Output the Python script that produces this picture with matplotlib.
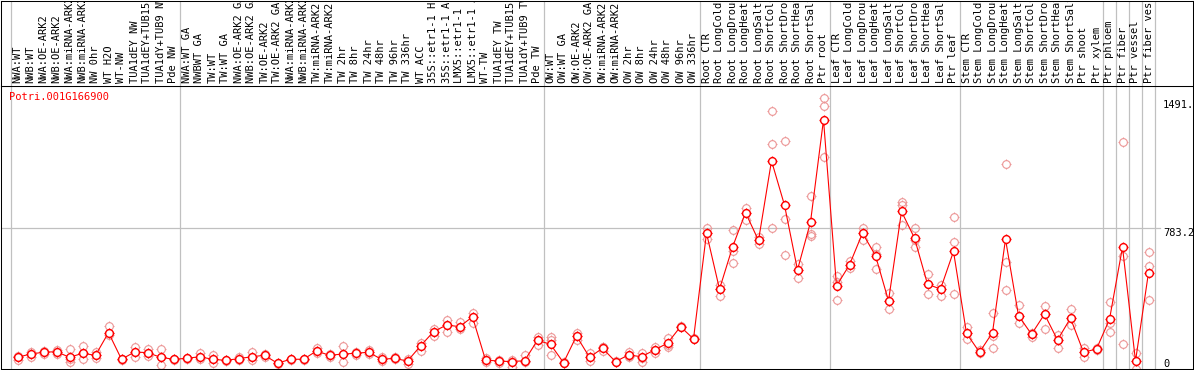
import numpy as np
import matplotlib
matplotlib.use('Agg')
import matplotlib.pyplot as plt
from matplotlib.path import Path

gene = 'Potri.001G166900'

labels = [
    'NWA:WT', 'NWB:WT', 'NWA:OE-ARK2', 'NWB:OE-ARK2', 'NWA:miRNA-ARK2', 'NWB:miRNA-ARK2',
    'NW 0hr', 'WT H2O', 'WT-NW', 'TUA1dEY NW', 'TUA1dEY+TUB15 NW', 'TUA1dY+TUB9 NW', 'Pde NW',
    'NWA:WT GA', 'NWBWT GA', 'TW:WT', 'TW:WT GA', 'NWA:OE-ARK2 GA', 'NWB:OE-ARK2 GA',
    'TW:OE-ARK2', 'TW:OE-ARK2 GA', 'NWA:miRNA-ARK2', 'NWB:miRNA-ARK2', 'TW:miRNA-ARK2',
    'TW:miRNA-ARK2', 'TW 2hr', 'TW 8hr', 'TW 24hr', 'TW 48hr', 'TW 96hr', 'TW 336hr',
    'WT ACC', '35S::etr1-1 H2O', '35S::etr1-1 ACC', 'LMX5::etr1-1 H2O', 'LMX5::etr1-1 ACC',
    'WT-TW', 'TUA1dEY TW', 'TUA1dEY+TUB15 TW', 'TUA1dY+TUB9 TW', 'Pde TW',
    'OW:WT', 'OW:WT GA', 'OW:OE-ARK2', 'OW:OE-ARK2 GA', 'OW:miRNA-ARK2', 'OW:miRNA-ARK2',
    'OW 2hr', 'OW 8hr', 'OW 24hr', 'OW 48hr', 'OW 96hr', 'OW 336hr',
    'Root CTR', 'Root LongCold', 'Root LongDrought', 'Root LongHeat', 'Root LongSalt',
    'Root ShortCold', 'Root ShortDrought', 'Root ShortHeat', 'Root ShortSalt', 'Ptr root',
    'Leaf CTR', 'Leaf LongCold', 'Leaf LongDrought', 'Leaf LongHeat', 'Leaf LongSalt',
    'Leaf ShortCold', 'Leaf ShortDrought', 'Leaf ShortHeat', 'Leaf ShortSalt', 'Ptr leaf',
    'Stem CTR', 'Stem LongCold', 'Stem LongDrought', 'Stem LongHeat', 'Stem LongSalt',
    'Stem ShortCold', 'Stem ShortDrought', 'Stem ShortHeat', 'Stem ShortSalt', 'Ptr shoot',
    'Ptr xylem', 'Ptr phloem', 'Ptr fiber', 'Ptr vessel', 'Ptr fiber vessel',
]

group_sizes = [13, 28, 12, 10, 10, 11, 1, 1, 1, 1]

means = [
    65, 83, 93, 96, 65, 87, 76, 202, 54, 94, 91, 65, 54,
    59, 68, 54, 48, 57, 68, 76, 32, 54, 54, 100, 76, 83, 87, 93, 54, 59, 44, 128,
    207, 244, 235, 289, 50, 44, 41, 46, 159,
    137, 35, 183, 65, 115, 41, 78, 68, 106, 143, 235, 167,
    754, 443, 676, 868, 713, 1155, 909, 550, 815, 1383,
    461, 578, 754, 629, 378, 874, 726, 471, 443, 652,
    198, 93, 202, 720, 296, 193, 304, 161, 282, 93, 111,
    276, 676, 44, 535,
]

reps = [
    [74, 65, 50], [96, 83, 65], [98, 93, 83], [104, 96, 83], [111, 56, 39], [129, 87, 56],
    [96, 76, 61], [241, 202, 189], [56, 54, 52], [124, 94, 65], [109, 91, 72], [112, 65, 21],
    [56, 54, 52],
    [61, 59, 57], [87, 68, 54], [78, 54, 32], [50, 48, 46], [65, 57, 48], [96, 68, 48],
    [83, 76, 69], [34, 32, 30], [56, 54, 52], [56, 54, 52], [115, 100, 87], [83, 76, 65],
    [128, 83, 39], [96, 87, 78], [104, 93, 83], [65, 54, 43], [65, 59, 54], [54, 44, 28],
    [146, 128, 100], [222, 207, 183], [272, 244, 207], [259, 235, 222], [313, 289, 254],
    [59, 50, 41], [50, 44, 32], [50, 41, 9], [78, 46, 37], [179, 159, 133],
    [179, 161, 78], [37, 35, 33], [202, 183, 161], [87, 65, 46], [124, 120, 102],
    [43, 41, 39], [93, 72, 68], [87, 63, 41], [124, 105, 88], [174, 134, 121],
    [238, 235, 232], [170, 167, 164],
    [785, 754, 720], [467, 443, 407], [772, 655, 590], [893, 868, 828], [735, 713, 694],
    [1431, 1248, 782], [1266, 832, 632], [583, 550, 504], [957, 748, 740], [1504, 1457, 1176],
    [517, 485, 383], [600, 578, 559], [782, 754, 717], [676, 639, 554], [421, 378, 332],
    [924, 911, 800], [782, 717, 679], [526, 471, 415], [467, 443, 406], [843, 704, 415],
    [232, 198, 165], [106, 93, 87], [309, 183, 115], [1137, 593, 437], [356, 296, 257],
    [202, 193, 176], [350, 304, 221], [189, 161, 115], [332, 282, 244], [115, 93, 68],
    [115, 111, 107],
    [371, 254, 204], [1259, 629, 137], [87, 44, 0], [648, 572, 383],
]

tick_values = [0, 783.2, 1491]
tick_labels = ['0', '783.2', '1491.']

# pixel layout
W, H = 1194, 370
pitch = 13.0
first_center = 17.5
y_top = 1570

def box(l, t, r, b):
    return [l / W, 1 - b / H, (r - l) / W, (b - t) / H]

mono = 'DejaVu Sans Mono'
red = '#ff0000'
pink = '#ec9696'
grey = '#c0c0c0'

# circle (as a polygon) with four short ticks outside
ang = np.linspace(0, 2 * np.pi, 41)
circ = Path(np.column_stack([np.cos(ang), np.sin(ang)]), closed=True)
tk = 1.3
ring = Path.make_compound_path(
    circ,
    Path([(0, 1), (0, tk)]), Path([(0, -1), (0, -tk)]),
    Path([(1, 0), (tk, 0)]), Path([(-1, 0), (-tk, 0)]),
)

fig = plt.figure(figsize=(W / 100, H / 100), dpi=100)
ax = fig.add_axes(box(1, 86, 1193, 369))
hdr = fig.add_axes(box(1, 0.5, 1193, 86))

xl = ((1 - first_center) / pitch, (1193 - first_center) / pitch)
x = np.arange(len(means))
bounds = np.concatenate([[0], np.cumsum(group_sizes)]) - 0.5

for a in (ax, hdr):
    a.set_xlim(*xl)
    a.set_xticks([])
    a.set_yticks([])
    for s in a.spines.values():
        s.set_linewidth(0.75)
        s.set_color('black')
    for b in bounds:
        a.axvline(b, color=grey, lw=0.9, zorder=0)

ax.set_ylim(0, y_top)
ax.axhline(783.2, xmin=0, xmax=(1160 - 1) / 1192, color=grey, lw=0.9, zorder=0)

for i, r in enumerate(reps):
    ax.plot([i] * len(r), r, ls='none', marker=ring, ms=7.2, mfc='none',
            mec=pink, mew=0.8, zorder=2)

ax.plot(x, means, color=red, lw=0.8, zorder=3)
ax.plot(x, means, ls='none', marker=ring, ms=7.2, mfc='white',
        mec=red, mew=1.0, zorder=4)

ax.text((9 - 1) / 1192, (369 - 92) / 283, gene, transform=ax.transAxes,
        color=red, fontsize=7.5, family=mono, ha='left', va='top')

ytr = ax.get_yaxis_transform()
for v, t in zip(tick_values, tick_labels):
    ax.text((1163 - 1) / 1192, v, t, transform=ytr, fontsize=7.5, family=mono,
            ha='left', va='bottom' if v == 0 else 'top')

xtr = hdr.get_xaxis_transform()
for i, lab in enumerate(labels):
    hdr.text(i, 3 / 85.5, lab, transform=xtr, rotation=90, ha='center', va='bottom',
             fontsize=7.5, family=mono, clip_on=True)

fig.savefig('out.png', dpi=100)
